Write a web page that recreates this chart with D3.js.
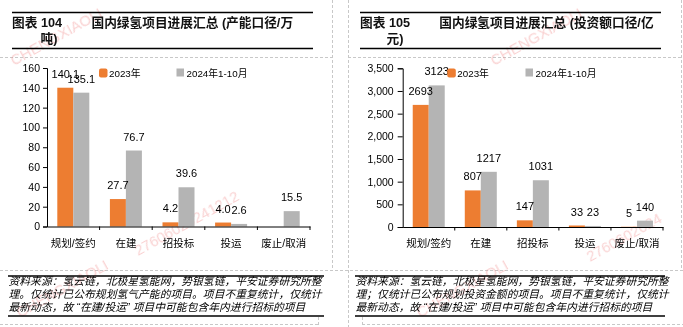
<!DOCTYPE html>
<html><head><meta charset="utf-8">
<script src="https://cdn.jsdelivr.net/npm/d3@7"></script>
<style>
html,body{margin:0;padding:0;background:#fff;}
svg{display:block;}
text{font-family:"Liberation Sans","Noto Sans CJK SC",sans-serif;}
</style></head>
<body><svg id="c" width="683" height="327"></svg>
<script>
const categories = ["规划/签约","在建","招投标","投运","废止/取消"];
const seriesNames = ["2023年","2024年1-10月"];
const capacity2023 = [140.1, 27.7, 4.2, 4.0, null];
const capacity2024 = [135.1, 76.7, 39.6, 2.6, 15.5];
const invest2023 = [2693, 807, 147, 33, 5];
const invest2024 = [3123, 1217, 1031, 23, 140];
const capacityTicks = [0,20,40,60,80,100,120,140,160];
const investTicks = [0,500,1000,1500,2000,2500,3000,3500];
const colors = ["#ED7D31","#B4B4B4"];
const footerLeft = ["资料来源：氢云链，北极星氢能网，势银氢链，平安证券研究所整",
 "理。仅统计已公布规划氢气产能的项目。项目不重复统计，仅统计",
 "最新动态，故 “在建/投运” 项目中可能包含年内进行招标的项目"];
const footerRight = ["资料来源：氢云链，北极星氢能网，势银氢链，平安证券研究所整",
 "理；仅统计已公布规划投资金额的项目。项目不重复统计，仅统计",
 "最新动态，故 “在建/投运” 项目中可能包含年内进行招标的项目"];

const svg = d3.select("#c");

// dashed frame lines
const dash = svg.append("g").attr("stroke","#c8c8c8").attr("stroke-width",1).attr("stroke-dasharray","3,2").attr("fill","none");
[[0,57.5,333,57.5],[348,57.5,683,57.5],[332.5,0,332.5,270],[348.5,0,348.5,327],[681.5,0,681.5,270],
 [0,270.5,683,270.5],[0,324.5,318,324.5],[362,324.5,683,324.5],[318.5,317,318.5,327],[362.5,317,362.5,327]]
 .forEach(l=>dash.append("line").attr("x1",l[0]).attr("y1",l[1]).attr("x2",l[2]).attr("y2",l[3]));

// watermarks
const wm = svg.append("g").attr("fill","#f08080").attr("opacity",0.35)
  .style("font-family","'Liberation Serif',serif").style("font-size","15px");
[[14,66,"CHENGXIAOLI"],[138,256,"27606020241212"],[494,66,"CHENGXIAOLI"],[590,262,"2760602024"],[20,318,"CHENGXIAOLI"],[420,318,"CHENGXIAOLI"]]
 .forEach(w=>wm.append("text").attr("transform",`translate(${w[0]},${w[1]}) rotate(-29)`).text(w[2]));

function drawChart(cfg){
  const g = svg.append("g");
  // title rules
  g.append("line").attr("x1",cfg.ruleX0).attr("x2",cfg.ruleX1).attr("y1",12.5).attr("y2",12.5).attr("stroke","#000").attr("stroke-width",1.4);
  g.append("line").attr("x1",cfg.ruleX0).attr("x2",cfg.ruleX1).attr("y1",48.5).attr("y2",48.5).attr("stroke","#000").attr("stroke-width",1.4);
  const tt = g.append("g").style("font-size","12.7px").style("font-weight","bold").attr("fill","#111");
  tt.append("text").attr("x",cfg.ruleX0).attr("y",27).text(cfg.fig);
  tt.append("text").attr("x",cfg.titleX).attr("y",27).text(cfg.title1);
  tt.append("text").attr("x",cfg.title2X).attr("y",43).text(cfg.title2);

  const x = d3.scaleBand().domain(categories).range([cfg.x0,cfg.x1]).padding(0);
  const y = d3.scaleLinear().domain([0,cfg.max]).range([cfg.yBase,cfg.yTop]);
  const inner = d3.scaleBand().domain([0,1]).range([0,32]);
  const bw = x.bandwidth();

  // y axis
  const ya = d3.axisLeft(y).tickValues(cfg.ticks).tickSize(cfg.tickLen).tickPadding(cfg.tickPad).tickFormat(cfg.tickFmt);
  const yg = g.append("g").attr("transform",`translate(${cfg.x0},0)`).call(ya);
  yg.select(".domain").attr("stroke","#000");
  yg.selectAll(".tick line").attr("stroke","#000");
  yg.selectAll("text").style("font-size","10.5px").attr("fill","#000");

  // bars
  const series = [cfg.s1, cfg.s2];
  series.forEach((vals,si)=>{
    const data = categories.map((c,i)=>({c,v:vals[i]})).filter(d=>d.v!=null);
    g.append("g").selectAll("rect").data(data).join("rect")
      .attr("x",d=>x(d.c)+bw/2-16+inner(si)).attr("width",inner.bandwidth())
      .attr("y",d=>y(d.v)).attr("height",d=>cfg.yBase-y(d.v)).attr("fill",colors[si]);
  });
  // x axis
  const xa = d3.axisBottom(x).tickSize(0).tickPadding(13);
  const xg = g.append("g").attr("transform",`translate(0,${cfg.yBase})`).call(xa);
  xg.select(".domain").attr("stroke","#000");
  xg.selectAll("text").style("font-size","10.5px").attr("fill","#000");
  const bounds = categories.map(c=>x(c)+bw);
  g.append("g").selectAll("line").data(bounds).join("line")
    .attr("x1",d=>d).attr("x2",d=>d).attr("y1",cfg.yBase).attr("y2",cfg.yBase+3.5).attr("stroke","#000");

  // labels
  series.forEach((vals,si)=>{
    const data = categories.map((c,i)=>({c,v:vals[i]})).filter(d=>d.v!=null);
    g.append("g").selectAll("text").data(data).join("text")
      .attr("x",d=>x(d.c)+bw/2-16+inner(si)+inner.bandwidth()/2)
      .attr("y",d=>y(d.v)-10).attr("text-anchor","middle")
      .style("font-size","11px").attr("fill","#000").text(d=>cfg.labFmt(d.v));
  });

  // legend
  const lg = g.append("g").style("font-size","9.8px").attr("fill","#000");
  seriesNames.forEach((n,i)=>{
    lg.append("rect").attr("x",cfg.legX[i]).attr("y",68.5).attr("width",i===0?8.5:7.5).attr("height",i===0?9:8)
      .attr("rx",i===0?2:0).attr("fill",colors[i]);
    lg.append("text").attr("x",cfg.legX[i]+10).attr("y",76.5).text(n);
  });

  // footer
  g.append("line").attr("x1",cfg.footX0).attr("x2",cfg.footX1).attr("y1",276).attr("y2",276).attr("stroke","#000").attr("stroke-width",1.4);
  g.append("line").attr("x1",cfg.footX0).attr("x2",cfg.footX1).attr("y1",316).attr("y2",316).attr("stroke","#000").attr("stroke-width",1.4);
  const ft = g.append("g").style("font-size","10.8px").style("font-style","italic").attr("fill","#000")
    .style("font-family","'Noto Sans CJK SC',sans-serif");
  cfg.footer.forEach((t,i)=>ft.append("text").attr("x",cfg.footX0+0.5).attr("y",284.5+i*13.4).text(t));
}

drawChart({
  fig:"图表 104", title1:"国内绿氢项目进展汇总 (产能口径/万", title2:"吨)",
  ruleX0:12, ruleX1:313, titleX:91.5, title2X:40.5,
  x0:47, x1:310, yBase:226.5, yTop:68, max:160, ticks:capacityTicks,
  tickLen:4, tickPad:3, tickFmt:d3.format("d"), labFmt:d3.format(".1f"),
  s1:capacity2023, s2:capacity2024, legX:[99,176.5],
  footX0:8, footX1:324, footer:footerLeft
});
drawChart({
  fig:"图表 105", title1:"国内绿氢项目进展汇总 (投资额口径/亿", title2:"元)",
  ruleX0:360, ruleX1:661, titleX:439.3, title2X:386.5,
  x0:402.7, x1:663, yBase:227, yTop:68.3, max:3500, ticks:investTicks,
  tickLen:5, tickPad:4, tickFmt:d3.format(","), labFmt:d3.format("d"),
  s1:invest2023, s2:invest2024, legX:[447.3,525.5],
  footX0:355, footX1:665, footer:footerRight
});
</script></body></html>
